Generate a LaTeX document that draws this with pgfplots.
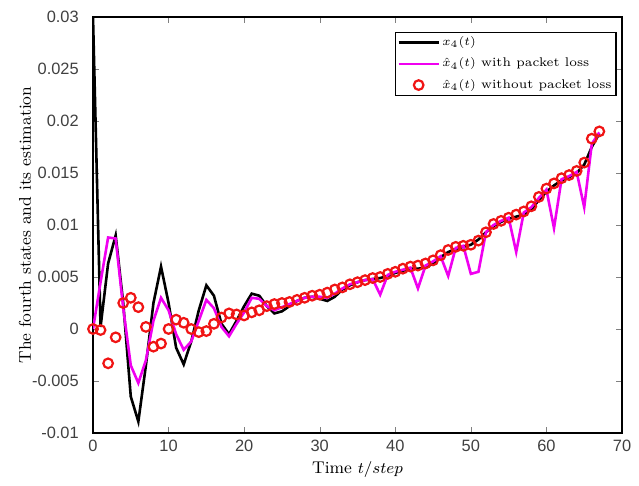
\documentclass[border=0pt]{standalone}
\usepackage{pgfplots}
\usepackage{pgfplotstable}
\usepackage{fontspec}
\pgfplotsset{compat=1.18}
\newfontfamily\ticksf{Liberation Sans}
\definecolor{mymag}{RGB}{240,0,240}
\definecolor{myred}{RGB}{240,20,20}
\pgfplotsset{
  linelegend/.style={legend image code/.code={\draw[##1] (0pt,0pt) -- (20pt,0pt);}},
  marklegend/.style={legend image code/.code={\draw[##1] plot coordinates {(10pt,0pt)};}},
}

\pgfplotstableread{
t x m r
0 0.0300 0.0000 0.0000
1 0.0002 0.0045 -0.0001
2 0.0063 0.0088 -0.0033
3 0.0090 0.0087 -0.0008
4 0.0025 0.0020 0.0025
5 -0.0065 -0.0035 0.0030
6 -0.0089 -0.0052 0.0021
7 -0.0035 -0.0030 0.0002
8 0.0025 0.0008 -0.0017
9 0.0060 0.0030 -0.0014
10 0.0025 0.0018 0.0000
11 -0.0018 -0.0005 0.0009
12 -0.0034 -0.0020 0.0006
13 -0.0012 -0.0012 0.0000
14 0.0018 0.0008 -0.0003
15 0.0042 0.0028 -0.0002
16 0.0032 0.0020 0.0005
17 0.0005 0.0002 0.0011
18 -0.0005 -0.0007 0.0015
19 0.0008 0.0005 0.0014
20 0.0022 0.0016 0.0013
21 0.0034 0.0030 0.0016
22 0.0032 0.0029 0.0018
23 0.0022 0.0022 0.0022
24 0.0015 0.0018 0.0024
25 0.0017 0.0021 0.0025
26 0.0022 0.0024 0.0026
27 0.0027 0.0027 0.0028
28 0.0030 0.0030 0.0030
29 0.0031 0.0031 0.0032
30 0.0029 0.0031 0.0033
31 0.0027 0.0030 0.0035
32 0.0031 0.0034 0.0038
33 0.0038 0.0039 0.0040
34 0.0042 0.0043 0.0043
35 0.0045 0.0045 0.0045
36 0.0047 0.0047 0.0047
37 0.0048 0.0048 0.0049
38 0.0049 0.0033 0.0050
39 0.0051 0.0052 0.0053
40 0.0054 0.0055 0.0055
41 0.0056 0.0057 0.0058
42 0.0058 0.0059 0.0060
43 0.0058 0.0039 0.0061
44 0.0059 0.0061 0.0063
45 0.0063 0.0065 0.0066
46 0.0069 0.0070 0.0071
47 0.0074 0.0051 0.0076
48 0.0077 0.0078 0.0079
49 0.0079 0.0080 0.0080
50 0.0081 0.0053 0.0081
51 0.0086 0.0055 0.0085
52 0.0093 0.0093 0.0093
53 0.0099 0.0100 0.0101
54 0.0103 0.0104 0.0104
55 0.0106 0.0107 0.0107
56 0.0108 0.0074 0.0110
57 0.0110 0.0112 0.0113
58 0.0115 0.0117 0.0118
59 0.0124 0.0126 0.0127
60 0.0132 0.0134 0.0135
61 0.0138 0.0097 0.0140
62 0.0143 0.0144 0.0145
63 0.0146 0.0147 0.0148
64 0.0150 0.0151 0.0152
65 0.0158 0.0117 0.0160
66 0.0175 0.0178 0.0183
67 0.0188 0.0189 0.0190
}\datatable

\begin{document}
\begin{tikzpicture}
\begin{axis}[
  name=main,
  scale only axis,
  width=264.5pt, height=208pt,
  xmin=0, xmax=70, ymin=-0.01, ymax=0.03,
  xtick={0,10,...,70},
  ytick={-0.01,-0.005,0,0.005,0.01,0.015,0.02,0.025,0.03},
  yticklabels={-0.01,-0.005,0,0.005,0.01,0.015,0.02,0.025,0.03},
  scaled y ticks=false,
  tick align=inside,
  tick pos=both,
  major tick length=3pt,
  /pgf/number format/assume math mode=true,
  ticklabel style={font=\ticksf\fontsize{8.2}{9.5}\selectfont, color=black!75},
  yticklabel style={xshift=-3.6pt},
  label style={font=\fontsize{8.5}{10}\selectfont},
  xlabel={Time $t/step$},
  ylabel={The fourth states and its estimation},
  xlabel style={yshift=2pt},
  ylabel style={at={(axis description cs:-0.1285,0.5)}, anchor=center},
  axis line style={line width=0.7pt},
  legend style={at={(0.99,0.965)}, anchor=north east, font=\fontsize{6.3}{7.5}\selectfont,
    draw=black, line width=0.7pt, inner sep=1pt, row sep=2.2pt,
    nodes={inner sep=1.2pt}, cells={anchor=west}},
  legend cell align=left,
]
\addplot[black, line width=1.3pt, linelegend] table[x=t,y=x] {\datatable};
\addlegendentry{$x_4(t)$}
\addplot[mymag, line width=1.3pt, linelegend] table[x=t,y=m] {\datatable};
\addlegendentry{$\hat{x}_4(t)$ with packet loss}
\addplot[only marks, mark=o, myred, mark size=2.4pt, line width=1.1pt, marklegend] table[x=t,y=r] {\datatable};
\addlegendentry{$\hat{x}_4(t)$ without packet loss}
\end{axis}
\path ([shift={(-46.5pt,-26pt)}]main.south west) -- ([shift={(8.5pt,8.5pt)}]main.north east);
\end{tikzpicture}
\end{document}
